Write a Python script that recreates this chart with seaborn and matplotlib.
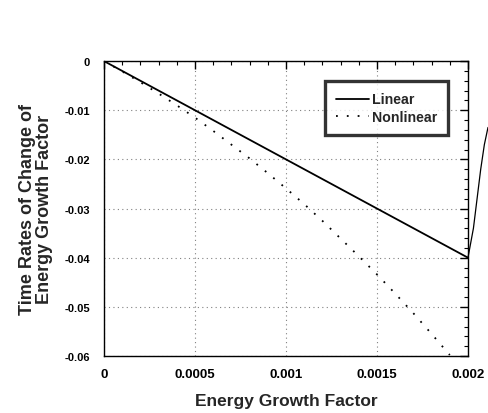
import numpy as np
import pandas as pd
import matplotlib
matplotlib.use("Agg")
import matplotlib.pyplot as plt
from matplotlib.ticker import MultipleLocator
import seaborn as sns

# Data
lin_x = [0.0, 0.0005, 0.001, 0.0015, 0.002]
lin_y = [0.0, -0.010, -0.020, -0.030, -0.040]
nl_x = [0.0, 0.0001, 0.0002, 0.0003, 0.0004, 0.0005, 0.0006, 0.0007, 0.0008, 0.0009,
        0.0010, 0.0011, 0.0012, 0.0013, 0.0014, 0.0015, 0.0016, 0.0017, 0.0018, 0.0019]
nl_y = [0.0, -0.0021, -0.0043, -0.0066, -0.0090, -0.0115, -0.0142, -0.0170, -0.0198, -0.0228,
        -0.0259, -0.0291, -0.0325, -0.0361, -0.0397, -0.0434, -0.0473, -0.0513, -0.0555, -0.0598]
# scan trace at right edge
trace_x = [0.0020, 0.00203, 0.00205, 0.00207, 0.00209, 0.00211]
trace_y = [-0.040, -0.034, -0.028, -0.022, -0.017, -0.0135]

xticks = [0, 0.0005, 0.001, 0.0015, 0.002]
xticklabels = ["0", "0.0005", "0.001", "0.0015", "0.002"]
yticks = [0, -0.01, -0.02, -0.03, -0.04, -0.05, -0.06]
yticklabels = ["0", "-0.01", "-0.02", "-0.03", "-0.04", "-0.05", "-0.06"]

sns.set_style("white")
plt.rcParams['font.family'] = ['Liberation Sans', 'DejaVu Sans']

fig = plt.figure(figsize=(4.89, 4.14), dpi=100)
ax = fig.add_axes([0.2127, 0.1377, 0.957 - 0.2127, 0.850 - 0.1377])

df_lin = pd.DataFrame({"x": lin_x, "y": lin_y})
df_nl = pd.DataFrame({"x": nl_x, "y": nl_y})
sns.lineplot(data=df_lin, x="x", y="y", ax=ax, color="black", lw=1.3, label="Linear")
sns.lineplot(data=df_nl, x="x", y="y", ax=ax, color="black", lw=1.3,
             linestyle=(0, (1, 5)), label="Nonlinear")
tr = ax.plot(trace_x, trace_y, color="black", lw=0.9)[0]
tr.set_clip_on(False)

ax.set_xlim(0, 0.002)
ax.set_ylim(-0.06, 0)
ax.set_xticks(xticks)
ax.set_xticklabels(xticklabels, fontsize=9.5, fontweight="bold")
ax.set_yticks(yticks)
ax.set_yticklabels(yticklabels, fontsize=8, fontweight="bold")
ax.xaxis.set_minor_locator(MultipleLocator(0.0001))
ax.yaxis.set_minor_locator(MultipleLocator(0.002))
ax.tick_params(which="both", direction="in", top=True, right=True, colors="black")
ax.tick_params(which="major", length=6, width=1)
ax.tick_params(which="minor", length=3, width=0.8)
ax.tick_params(axis="x", pad=9)
ax.tick_params(axis="y", pad=10)

ax.grid(True, which="major", color="gray", linestyle=(0, (1, 3)), lw=0.8)
for s in ax.spines.values():
    s.set_color("black")
    s.set_linewidth(1.0)

ax.set_xlabel("Energy Growth Factor", fontsize=12.5, fontweight="bold", labelpad=9)
ax.set_ylabel("Time Rates of Change of\nEnergy Growth Factor", fontsize=13,
              fontweight="bold", labelpad=8, linespacing=1.0)

leg = ax.legend(loc="upper left", bbox_to_anchor=(0.607, 0.932), borderaxespad=0,
                frameon=True, fancybox=False, edgecolor="black",
                prop={"weight": "bold", "size": 10.2},
                handlelength=2.3, borderpad=0.8, labelspacing=0.25, handletextpad=0.2)
leg.get_frame().set_linewidth(2.4)

fig.savefig("out.png", dpi=100, facecolor="white")
